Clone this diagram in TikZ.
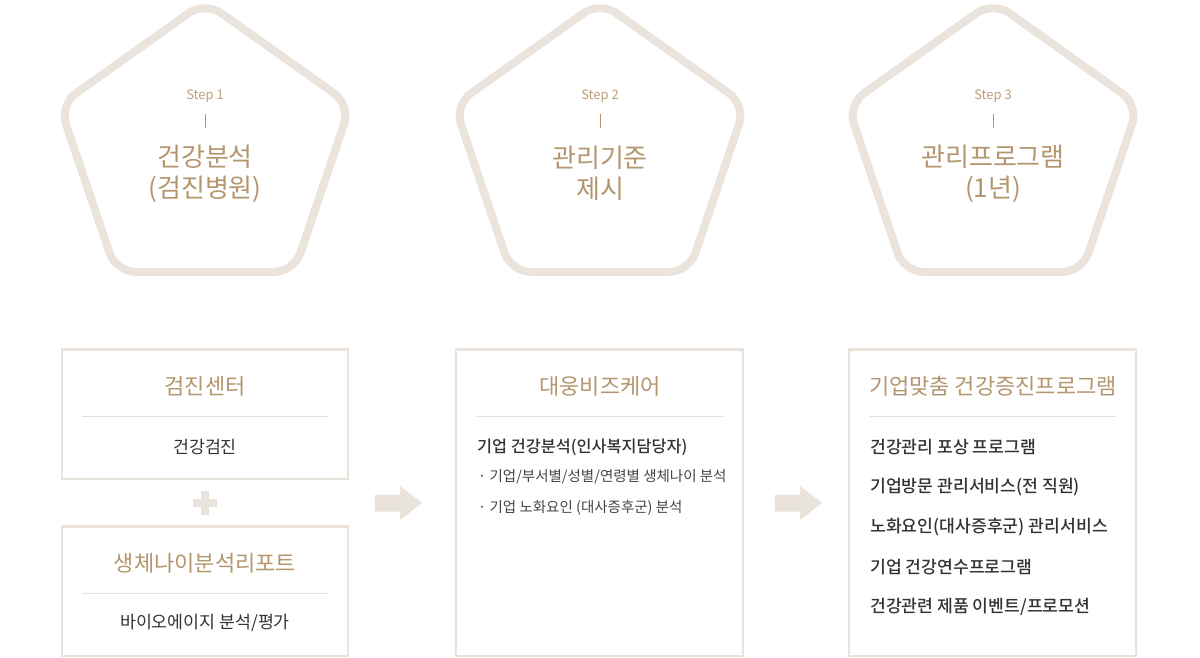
\documentclass[tikz,border=0pt]{standalone}
\usepackage{fontspec}
\setmainfont{Noto Sans CJK KR}[BoldFont={Noto Sans CJK KR Medium}]
\definecolor{tbrown}{HTML}{B4966E}
\definecolor{sbrown}{HTML}{BC9E7A}
\definecolor{pentc}{HTML}{EAE4DD}
\definecolor{boxc}{HTML}{E9E3DC}
\definecolor{divc}{HTML}{E2DFDC}
\definecolor{darkt}{HTML}{333333}
\definecolor{bullt}{HTML}{444444}
\begin{document}
\begin{tikzpicture}[x=1pt,y=-1pt,
  pent/.style={draw=pentc, line width=8pt, rounded corners=20pt},
  card/.style={draw=boxc, line width=2.5pt},
  divider/.style={draw=divc, line width=1pt},
  steplbl/.style={text=sbrown, font=\fontsize{13}{15}\selectfont, inner sep=0pt},
  pentitle/.style={text=tbrown, font=\fontsize{26}{31}\selectfont, align=center, inner sep=0pt},
  cardtitle/.style={text=tbrown, font=\fontsize{22}{26}\selectfont, inner sep=0pt},
  cardtext/.style={text=darkt, font=\fontsize{17.3}{20}\selectfont, inner sep=0pt},
  cardbold/.style={text=darkt, font=\fontsize{17.2}{20}\selectfont\bfseries, inner sep=0pt, anchor=west},
  subbold/.style={text=darkt, font=\fontsize{16.3}{20}\selectfont\bfseries, inner sep=0pt, anchor=west},
  bullet/.style={text=bullt, font=\fontsize{14.5}{18}\selectfont, inner sep=0pt, anchor=west},
  blockarrow/.style={fill=boxc, draw=none}
]
\useasboundingbox (0,0) rectangle (1200,658);
\fill[white] (0,0) rectangle (1200,658);

% pentagons
\foreach \cx/\n/\t in {205/1/{건강분석\\(검진병원)}, 600/2/{관리기준\\제시}, 993/3/{관리프로그램\\(1년)}}{
  \draw[pent, shift={(\cx,0)}] (0,272) -- (-89,272) -- (-145.5,105) -- (0,1.5) -- (145.5,105) -- (89,272) -- cycle;
  \node[steplbl] (step\n) at (\cx,96) {Step \n};
  \coordinate (bartop\n) at (\cx,114);
  \coordinate (barbot\n) at (\cx,128);
  \draw[tbrown, line width=0.9pt] (bartop\n) -- (barbot\n);
  \node[pentitle] (ptitle\n) at (\cx,173.5) {\t};
}

% box 1
\draw[card] (62,349.5) rectangle (348,479);
\node[cardtitle] (b1title) at (205,386) {검진센터};
\draw[divider] (82,416) -- (328,416);
\node[cardtext] (b1text) at (205,447) {건강검진};

% plus
\fill[boxc] (193,499) rectangle (217,507);
\fill[boxc] (201,491) rectangle (209,515);

% box 2
\draw[card] (62,526.5) rectangle (348,656);
\node[cardtitle] (b2title) at (205,563) {생체나이분석리포트};
\draw[divider] (82,593) -- (328,593);
\node[cardtext] (b2text) at (205,623) {바이오에이지 분석/평가};

% arrow 1
\fill[blockarrow] (375,494.5) -- (400,494.5) -- (400,486) -- (422,503) -- (400,520) -- (400,511.5) -- (375,511.5) -- cycle;

% box 3
\draw[card] (456,349.5) rectangle (743,656);
\node[cardtitle] (b3title) at (600,386) {대웅비즈케어};
\draw[divider] (477,416) -- (723,416);
\node[subbold] (b3bold) at (477,447) {기업 건강분석(인사복지담당자)};
\node[bullet] (b3b1) at (478,477) {· 기업/부서별/성별/연령별 생체나이 분석};
\node[bullet] (b3b2) at (478,508) {· 기업 노화요인 (대사증후군) 분석};

% arrow 2
\fill[blockarrow] (775,494.5) -- (800,494.5) -- (800,486) -- (822,503) -- (800,520) -- (800,511.5) -- (775,511.5) -- cycle;

% box 4
\draw[card] (849,349.5) rectangle (1136,656);
\node[cardtitle] (b4title) at (993,386) {기업맞춤 건강증진프로그램};
\draw[divider] (870,416) -- (1116,416);
\node[cardbold] (b4i1) at (870,447) {건강관리 포상 프로그램};
\node[cardbold] (b4i2) at (870,487) {기업방문 관리서비스(전 직원)};
\node[cardbold] (b4i3) at (870,527) {노화요인(대사증후군) 관리서비스};
\node[cardbold] (b4i4) at (870,567) {기업 건강연수프로그램};
\node[cardbold] (b4i5) at (870,607) {건강관련 제품 이벤트/프로모션};
\end{tikzpicture}
\end{document}
